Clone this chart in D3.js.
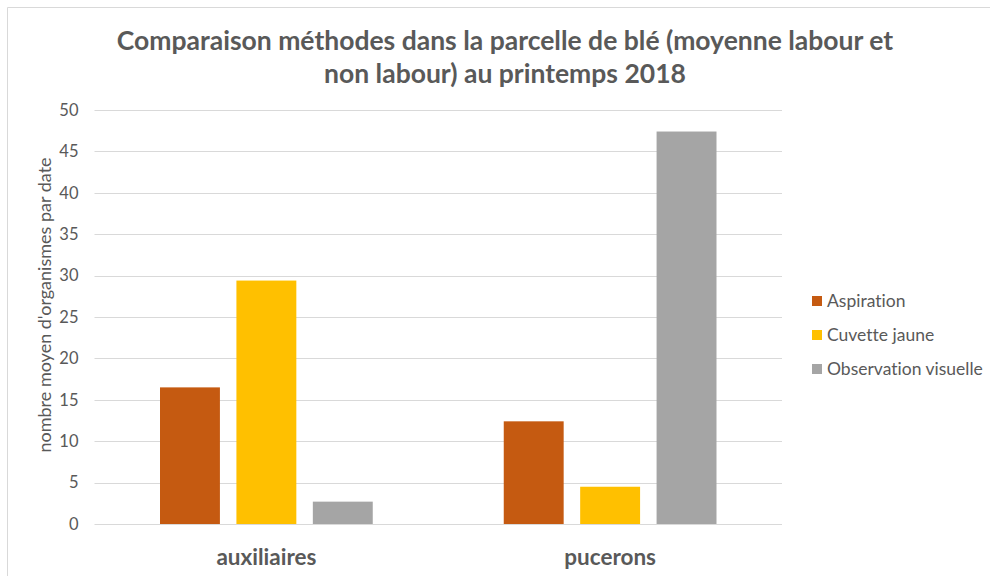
<!DOCTYPE html>
<html>
<head>
<meta charset="utf-8">
<script src="https://cdn.jsdelivr.net/npm/d3@7"></script>
<style>
  body { margin: 0; background: #fff; }
  text { font-family: Lato, "Open Sans", sans-serif; font-variant-ligatures: none; }
</style>
</head>
<body>
<div id="chart"></div>
<script>
// Data
const categories = ["auxiliaires", "pucerons"];
const seriesNames = ["Aspiration", "Cuvette jaune", "Observation visuelle"];
const aspiration = [16.5, 12.4];
const cuvetteJaune = [29.4, 4.5];
const observationVisuelle = [2.7, 47.4];
const yTicks = [0, 5, 10, 15, 20, 25, 30, 35, 40, 45, 50];
const titleLines = [
  "Comparaison méthodes dans la parcelle de blé (moyenne labour et",
  "non labour) au printemps 2018",
];
const yLabel = "nombre moyen d'organismes par date";

const colors = ["#c55a11", "#ffc000", "#a5a5a5"];
const seriesValues = [aspiration, cuvetteJaune, observationVisuelle];

const width = 990, height = 576;
const margin = { top: 110, right: 208, bottom: 52, left: 94.5 };

const svg = d3.select("#chart")
  .append("svg")
  .attr("width", width)
  .attr("height", height);

// chart area border (only top and left are visible)
svg.append("path")
  .attr("d", `M7.5,${height} V7.5 H${width}`)
  .attr("fill", "none")
  .attr("stroke", "#d9d9d9")
  .attr("stroke-width", 1);

const plotW = width - margin.left - margin.right;
const plotH = height - margin.top - margin.bottom;

const g = svg.append("g")
  .attr("transform", `translate(${margin.left}, ${margin.top})`);

// scales
const x0 = d3.scaleBand().domain(categories).range([0, plotW]);
const x1 = d3.scaleBand()
  .domain(seriesNames)
  .range([65.5, x0.bandwidth() - 65.5])
  .paddingInner(0.216);
const y = d3.scaleLinear().domain([0, 50]).range([plotH, 0]);

// gridlines
g.append("g")
  .selectAll("line")
  .data(yTicks)
  .join("line")
  .attr("x1", 0)
  .attr("x2", plotW)
  .attr("y1", (d) => Math.round(y(d)) + 0.5)
  .attr("y2", (d) => Math.round(y(d)) + 0.5)
  .attr("stroke", "#d9d9d9")
  .attr("stroke-width", 1);

// y axis tick labels
const yAxis = g.append("g")
  .call(d3.axisLeft(y).tickValues(yTicks).tickSize(0).tickPadding(16));
yAxis.select(".domain").remove();
yAxis.selectAll("text")
  .attr("font-family", "Lato, 'Open Sans', sans-serif")
  .attr("font-size", 16.5)
  .attr("fill", "#595959");

// bars
const rows = categories.map((c, i) => ({
  cat: c,
  vals: seriesNames.map((s, j) => ({ name: s, value: seriesValues[j][i], color: colors[j] })),
}));

g.selectAll(".grp")
  .data(rows)
  .join("g")
  .attr("class", "grp")
  .attr("transform", (d) => `translate(${x0(d.cat)}, 0)`)
  .selectAll("rect")
  .data((d) => d.vals)
  .join("rect")
  .attr("x", (d) => x1(d.name))
  .attr("y", (d) => y(d.value))
  .attr("width", x1.bandwidth())
  .attr("height", (d) => y(0) - y(d.value))
  .attr("fill", (d) => d.color);

// x axis category labels
const xAxis = g.append("g")
  .attr("transform", `translate(0, ${plotH})`)
  .call(d3.axisBottom(x0).tickSize(0).tickPadding(25));
xAxis.select(".domain").remove();
xAxis.selectAll("text")
  .attr("font-family", "Lato, 'Open Sans', sans-serif")
  .attr("font-size", 22.5)
  .attr("font-weight", "bold")
  .attr("fill", "#595959");

// y axis title
svg.append("text")
  .attr("transform", "translate(51, 305) rotate(-90)")
  .attr("text-anchor", "middle")
  .attr("font-size", 18)
  .attr("fill", "#595959")
  .text(yLabel);

// chart title
svg.append("g")
  .selectAll("text")
  .data(titleLines)
  .join("text")
  .attr("x", 505)
  .attr("y", (d, i) => 50 + i * 33)
  .attr("text-anchor", "middle")
  .attr("font-size", 26.5)
  .attr("font-weight", "bold")
  .attr("fill", "#595959")
  .text((d) => d);

// legend
const legend = svg.append("g").attr("transform", "translate(812, 301)");
const item = legend.selectAll("g")
  .data(seriesNames)
  .join("g")
  .attr("transform", (d, i) => `translate(0, ${i * 34})`);
item.append("rect")
  .attr("x", 0)
  .attr("y", -5)
  .attr("width", 10)
  .attr("height", 10)
  .attr("fill", (d, i) => colors[i]);
item.append("text")
  .attr("x", 15)
  .attr("y", 0)
  .attr("dy", "0.35em")
  .attr("font-size", 17.5)
  .attr("fill", "#595959")
  .text((d) => d);
</script>
</body>
</html>
